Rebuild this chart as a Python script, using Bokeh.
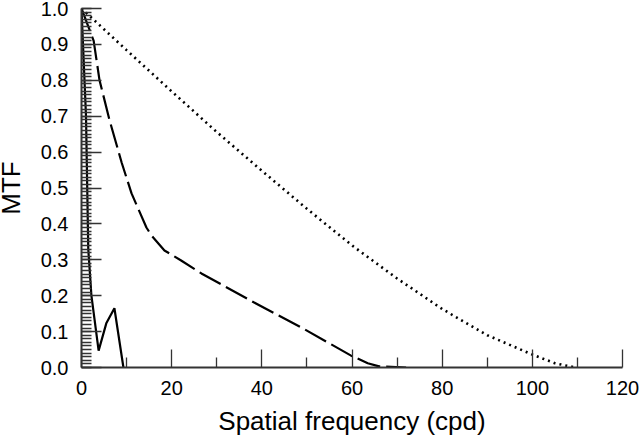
from bokeh.plotting import figure
from bokeh.models import Range1d, FixedTicker
from bokeh.embed import file_html
from bokeh.resources import INLINE

# Diffraction-limited style curve (dotted)
dot_x = [0, 5, 10, 20, 30, 40, 50, 60, 70, 80, 90, 100, 105, 109.5]
dot_y = [1.0, 0.942, 0.884, 0.769, 0.656, 0.548, 0.442, 0.340, 0.248, 0.163, 0.090, 0.036, 0.012, 0.0]

# Long dashed curve
dash_x = [0, 1.2, 2.7, 4.0, 6.2, 8.9, 11.1, 14.4, 15.5, 18.4, 22.1, 26.6, 38.3, 48.7, 59.8, 63.5, 66.0, 72.0]
dash_y = [1.0, 0.96, 0.91, 0.80, 0.69, 0.571, 0.485, 0.390, 0.368, 0.326, 0.298, 0.262, 0.181, 0.112, 0.033, 0.012, 0.003, 0.0]

# Solid curve
sol_x = [0, 1.0, 1.5, 2.2, 3.8, 5.5, 7.3, 9.3]
sol_y = [1.0, 0.70, 0.33, 0.20, 0.047, 0.123, 0.165, 0.0]

x_ticks = [0, 20, 40, 60, 80, 100, 120]
y_ticks = [0.0, 0.1, 0.2, 0.3, 0.4, 0.5, 0.6, 0.7, 0.8, 0.9, 1.0]
y_tick_labels = ["0.0", "0.1", "0.2", "0.3", "0.4", "0.5", "0.6", "0.7", "0.8", "0.9", "1.0"]

p = figure(width=648, height=451, output_backend="svg", toolbar_location=None,
           x_range=Range1d(0, 120), y_range=Range1d(0, 1.0),
           min_border_left=88, min_border_right=18, min_border_top=16, min_border_bottom=76)
p.styles = {"margin-top": "-8px", "margin-left": "-8px"}
p.outline_line_color = None
p.grid.grid_line_color = None
p.background_fill_color = "white"

p.line(dot_x, dot_y, line_color="black", line_width=2.6, line_dash="2 4")
p.line(dash_x, dash_y, line_color="black", line_width=2.2, line_dash="24 6")
p.line(sol_x, sol_y, line_color="black", line_width=2.2)

font = "Liberation Sans"
xa = p.xaxis[0]
xa.ticker = FixedTicker(ticks=x_ticks, minor_ticks=[10, 30, 50, 70, 90, 110])
xa.axis_label = "Spatial frequency (cpd)"
ya = p.yaxis[0]
ya.ticker = FixedTicker(ticks=y_ticks, minor_ticks=[round(i * 0.01, 2) for i in range(101)])
ya.major_label_overrides = {t: l for t, l in zip(y_ticks, y_tick_labels)}
ya.axis_label = "MTF"

for ax in (xa, ya):
    ax.axis_line_color = "#333333"
    ax.axis_line_width = 2
    ax.major_tick_line_color = "#333333"
    ax.minor_tick_line_color = "#333333"
    ax.major_tick_line_width = 1.3
    ax.minor_tick_line_width = 1.3
    ax.major_tick_out = 0
    ax.minor_tick_out = 0
    ax.minor_tick_in = 10
    ax.major_label_text_font = font
    ax.major_label_text_font_size = "20px"
    ax.major_label_text_color = "black"
    ax.axis_label_text_font = font
    ax.axis_label_text_font_size = "26px"
    ax.axis_label_text_font_style = "normal"
    ax.axis_label_text_color = "black"

xa.major_tick_in = 18
ya.major_tick_in = 20
xa.major_label_standoff = 13
ya.major_label_standoff = 13
xa.axis_label_standoff = 8
ya.axis_label_standoff = 12

open("out.html", "w").write(file_html(p, INLINE))
